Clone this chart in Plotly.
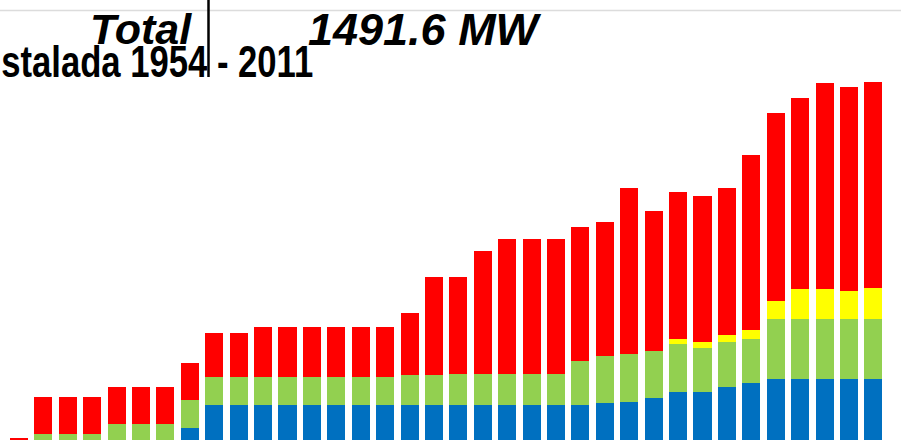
import plotly.graph_objects as go

# Category labels (years, hidden in the cropped view)
years = [str(y) for y in range(1976, 2012)]

# Installed capacity by technology (MW), stacked bottom to top
blue = [0, 0, 0, 0, 0, 0, 0, 49, 146, 146, 146, 146, 146, 146, 146, 146,
        146, 146, 146, 146, 146, 146, 146, 146, 153, 157, 174, 199, 199, 221,
        236, 253, 253, 253, 253, 253]
green = [0, 24, 24, 24, 67, 67, 67, 118, 115, 115, 115, 115, 115, 115, 115, 115,
         126, 126, 128, 128, 128, 128, 128, 185, 198, 200, 198, 202, 183, 187,
         183, 250, 250, 250, 250, 250]
yellow = [0, 0, 0, 0, 0, 0, 0, 0, 0, 0, 0, 0, 0, 0, 0, 0,
          0, 0, 0, 0, 0, 0, 0, 0, 0, 0, 0, 19, 27, 28,
          39, 75, 126, 126, 118, 132]
red = [10, 154, 154, 154, 153, 153, 153, 153, 185, 185, 211, 211, 211, 211, 211, 211,
       258, 406, 404, 514, 562, 562, 562, 557, 557, 694, 583, 615, 608, 615,
       729, 783, 795, 857, 851, 857]

title_total = "Total"
title_value = "1491.6 MW"
subtitle = "stalada 1954 - 2011"

W, H = 901, 440

fig = go.Figure()
for vals, col in [(blue, "#0070C0"), (green, "#92D050"), (yellow, "#FFFF00"), (red, "#FF0000")]:
    fig.add_trace(go.Bar(x=list(range(len(years))), y=vals, marker=dict(color=col, line=dict(width=0)),
                         hoverinfo="skip", showlegend=False))

pitch = 24.41
x0 = 19.0
fig.update_layout(
    width=W, height=H,
    margin=dict(l=0, r=0, t=0, b=0),
    paper_bgcolor="white", plot_bgcolor="white",
    barmode="stack", bargap=0.26,
    xaxis=dict(visible=False, range=[-x0 / pitch, (W - x0) / pitch]),
    yaxis=dict(visible=False, range=[0, 1833]),
    showlegend=False,
)

# top grey rule
fig.add_shape(type="line", xref="paper", yref="paper", x0=0, x1=1,
              y0=(H - 10.5) / H, y1=(H - 10.5) / H, line=dict(color="#dcdcdc", width=1.5))
# vertical black cursor line
fig.add_shape(type="line", xref="paper", yref="paper", x0=208.5 / W, x1=208.5 / W,
              y0=1, y1=(H - 77) / H, line=dict(color="black", width=2.5))

fig.add_annotation(text=title_total, xref="paper", yref="paper", x=194 / W, y=(H - 29) / H,
                   xanchor="right", yanchor="middle", showarrow=False,
                   font=dict(family="Liberation Sans, Arial, sans-serif", size=43, color="black",
                             weight="bold", style="italic"))
fig.add_annotation(text=title_value, xref="paper", yref="paper", x=306 / W, y=(H - 29) / H,
                   xanchor="left", yanchor="middle", showarrow=False,
                   font=dict(family="Liberation Sans, Arial, sans-serif", size=45, color="black",
                             weight="bold", style="italic"))
fig.add_annotation(text=subtitle, xref="paper", yref="paper", x=315 / W, y=(H - 61) / H,
                   xanchor="right", yanchor="middle", showarrow=False,
                   font=dict(family="Liberation Sans, Arial, sans-serif", size=45, color="black",
                             weight="bold"))

post = """
document.body.style.margin = '0';
document.body.style.overflow = 'hidden';
var gd = document.getElementById('{plot_id}');
gd.querySelectorAll('.annotation-text').forEach(function(t){
  if (t.textContent.indexOf('1954') >= 0) {
    t.style.transformBox = 'fill-box';
    t.style.transformOrigin = '100% 50%';
    t.style.transform = 'scaleX(0.77)';
  }
});
"""

fig.write_html("out.html", post_script=post, config={"displayModeBar": False})
